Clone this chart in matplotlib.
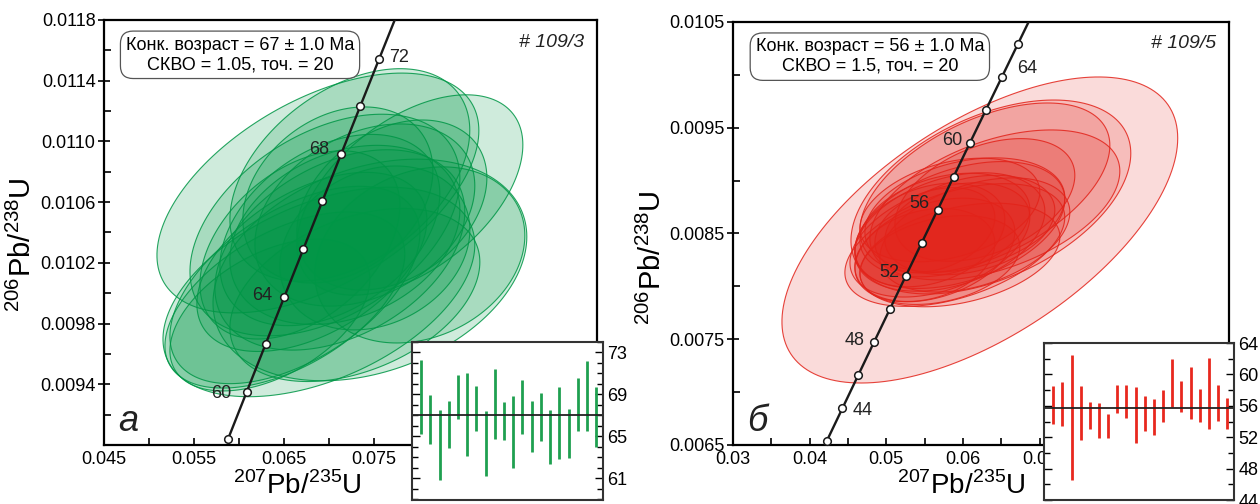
import numpy as np
import matplotlib
matplotlib.use("Agg")
import matplotlib.pyplot as plt
from matplotlib.patches import Polygon
from matplotlib.ticker import MultipleLocator, FormatStrFormatter

plt.rcParams["font.family"] = ["Liberation Sans", "DejaVu Sans"]
plt.rcParams["mathtext.fontset"] = "custom"
plt.rcParams["mathtext.rm"] = "Liberation Sans"

# ── Decay constants (1/yr) ───────────────────────────────────────
L238 = 1.55125e-10
L235 = 9.8485e-10

# ── Panel a (# 109/3) ────────────────────────────────────────────
A_X = [0.06878, 0.07900, 0.07456, 0.06889, 0.07233, 0.07011, 0.07178, 0.06678, 0.07122, 0.07400,
       0.06811, 0.06622, 0.07511, 0.07100, 0.06511, 0.08011, 0.06956, 0.07289, 0.06344, 0.07700]
A_Y = [0.010660, 0.010647, 0.010153, 0.010008, 0.010779, 0.010416, 0.010384, 0.010318, 0.010285, 0.010515,
       0.010206, 0.010054, 0.010298, 0.010647, 0.009955, 0.010252, 0.010449, 0.009988, 0.009856, 0.010581]
A_SX = [0.01789, 0.01256, 0.01744, 0.01733, 0.01333, 0.01222, 0.01278, 0.01111, 0.01389, 0.01222,
        0.01278, 0.01389, 0.01056, 0.01056, 0.01333, 0.01167, 0.01500, 0.01389, 0.01111, 0.01056]
A_SY = [0.000790, 0.000660, 0.000730, 0.000690, 0.000700, 0.000630, 0.000590, 0.000620, 0.000660, 0.000600,
        0.000590, 0.000650, 0.000540, 0.000580, 0.000580, 0.000580, 0.000730, 0.000570, 0.000500, 0.000560]
A_RHO = [0.52, 0.50, 0.30, 0.45, 0.42, 0.38, 0.28, 0.42, 0.38, 0.32,
         0.47, 0.52, 0.22, 0.28, 0.52, 0.22, 0.42, 0.38, 0.47, 0.32]
A_XTICKS = [0.045, 0.055, 0.065, 0.075, 0.085, 0.095]
A_YTICKS = [0.0094, 0.0098, 0.0102, 0.0106, 0.0110, 0.0114, 0.0118]
A_TICK_AGES = [58, 60, 62, 64, 66, 68, 70, 72, 74]
A_LABEL_AGES = [60, 64, 70, 74]
A_LABELS = ["60", "64", "68", "72"]
A_LABEL_OFF = [(-25, -2), (-22, 1), (-22, 4), (20, 1)]
A_AGE_LO = [65.2, 64.3, 60.8, 63.9, 66.6, 63.1, 65.5, 61.2, 64.7, 64.6,
            62.0, 65.2, 63.5, 64.5, 62.3, 62.8, 62.9, 65.5, 65.5, 64.0]
A_AGE_HI = [72.3, 68.9, 67.5, 68.4, 70.8, 71.0, 69.8, 67.4, 71.4, 68.3,
            68.8, 70.4, 68.4, 69.1, 67.5, 69.7, 67.6, 70.6, 72.2, 69.7]
A_MEAN = 67.0
A_INSET_TICKS = [61, 65, 69, 73]

# ── Panel б (# 109/5) ────────────────────────────────────────────
B_X = [0.06220, 0.06364, 0.06286, 0.06416, 0.05960, 0.05829, 0.05699, 0.06025, 0.05634, 0.05894,
       0.05764, 0.05568, 0.06155, 0.05503, 0.05960, 0.05829, 0.05699, 0.06090, 0.05634, 0.06286]
B_Y = [0.008533, 0.008845, 0.008930, 0.008770, 0.008580, 0.008514, 0.008439, 0.008675, 0.008344, 0.008391,
       0.008580, 0.008486, 0.008486, 0.008297, 0.008297, 0.008722, 0.008249, 0.008580, 0.008533, 0.008817]
B_SX = [0.02581, 0.01825, 0.01630, 0.01630, 0.01369, 0.01239, 0.01173, 0.01304, 0.01043, 0.01434,
        0.01108, 0.00978, 0.01239, 0.00913, 0.01304, 0.01173, 0.01043, 0.01108, 0.00782, 0.01173]
B_SY = [0.001447, 0.000917, 0.000804, 0.000709, 0.000600, 0.000560, 0.000540, 0.000540, 0.000490, 0.000580,
        0.000490, 0.000490, 0.000540, 0.000440, 0.000490, 0.000490, 0.000420, 0.000470, 0.000400, 0.000580]
B_RHO = [0.60, 0.45, 0.50, 0.45, 0.40, 0.35, 0.40, 0.30, 0.35, 0.45,
         0.30, 0.30, 0.40, 0.25, 0.35, 0.35, 0.30, 0.30, 0.30, 0.40]
B_XTICKS = [0.03, 0.04, 0.05, 0.06, 0.07, 0.08, 0.09]
B_YTICKS = [0.0065, 0.0075, 0.0085, 0.0095, 0.0105]
B_TICK_AGES = [42, 44, 46, 48, 50, 52, 54, 56, 58, 60, 62, 64, 66]
B_LABEL_AGES = [44, 48, 52, 56, 60, 64]
B_LABELS = ["44", "48", "52", "56", "60", "64"]
B_LABEL_OFF = [(20, -2), (-19, 2), (-16, 3), (-18, 6), (-17, 3), (25, 9)]
B_AGE_LO = [53.7, 53.4, 46.6, 51.6, 53.0, 51.9, 51.9, 55.1, 54.5, 51.2,
            52.8, 52.3, 54.0, 55.9, 55.2, 54.3, 53.9, 53.1, 54.1, 53.1]
B_AGE_HI = [58.5, 59.0, 62.5, 58.5, 56.5, 56.3, 54.9, 58.7, 58.6, 58.4,
            57.3, 56.9, 58.0, 62.0, 59.1, 60.9, 58.2, 62.1, 58.6, 57.0]
B_MEAN = 55.7
B_INSET_TICKS = [44, 48, 52, 56, 60, 64]


def concordia(ages_ma):
    t = np.asarray(ages_ma, dtype=float) * 1e6
    return np.expm1(L235 * t), np.expm1(L238 * t)


def error_ellipse(cx, cy, sx, sy, rho, n=180):
    t = np.linspace(0, 2 * np.pi, n)
    x = cx + sx * np.cos(t)
    y = cy + sy * (rho * np.cos(t) + np.sqrt(1 - rho ** 2) * np.sin(t))
    return np.column_stack([x, y])


def style_main(ax, xlim, ylim, xticks, yticks, xminor, yminor, xfmt, yfmt):
    ax.set_xticks(xticks)
    ax.set_yticks(yticks)
    ax.xaxis.set_minor_locator(MultipleLocator(xminor))
    ax.yaxis.set_minor_locator(MultipleLocator(yminor))
    ax.xaxis.set_major_formatter(FormatStrFormatter(xfmt))
    ax.yaxis.set_major_formatter(FormatStrFormatter(yfmt))
    ax.set_xlim(*xlim)
    ax.set_ylim(*ylim)
    ax.tick_params(axis="x", which="both", direction="in", length=5, width=1.2,
                   labelsize=13, pad=4)
    ax.tick_params(axis="y", which="major", direction="inout", length=8, width=1.2,
                   labelsize=13, pad=2)
    ax.tick_params(axis="y", which="minor", direction="in", length=5, width=1.2)
    for s in ax.spines.values():
        s.set_linewidth(1.6)


def draw_panel(fig, rect, inset_rect, ex, ey, esx, esy, erho, color, alpha,
               xlim, ylim, xticks, yticks, xminor, yminor, xfmt, age_range, tick_ages,
               label_ages, labels, label_off, box_text, tag, letter,
               lo, hi, mean, inset_ylim, inset_ticks, inset_minor, bar_color):
    ax = fig.add_axes(rect)
    style_main(ax, xlim, ylim, xticks, yticks, xminor, yminor, xfmt, "%.4f")

    # error ellipses, largest first
    order = np.argsort([-a * b for a, b in zip(esx, esy)])
    for i in order:
        pts = error_ellipse(ex[i], ey[i], esx[i], esy[i], erho[i])
        ax.add_patch(Polygon(pts, closed=True, fc=color, alpha=alpha, ec="none", zorder=2))
        ax.add_patch(Polygon(pts, closed=True, fill=False, ec=color, lw=0.8,
                             alpha=0.85, zorder=3))

    # concordia curve with age marks
    cx, cy = concordia(np.linspace(age_range[0], age_range[1], 200))
    ax.plot(cx, cy, color="#1a1a1a", lw=1.7, zorder=5)
    mx, my = concordia(tick_ages)
    ax.plot(mx, my, "o", ms=5.5, mfc="white", mec="#1a1a1a", mew=1.1, zorder=6,
            clip_on=False)
    lx, ly = concordia(label_ages)
    for x, y, s, off in zip(lx, ly, labels, label_off):
        ax.annotate(s, (x, y), xytext=off, textcoords="offset pixels",
                    ha="center", va="center", fontsize=13, color="#222", zorder=7)

    ax.text(0.276, 0.918, box_text, transform=ax.transAxes, ha="center", va="center",
            fontsize=13, linespacing=1.2, zorder=8,
            bbox=dict(boxstyle="round,pad=0.3,rounding_size=0.7", fc="white",
                      ec="#555555", lw=0.9))
    ax.text(0.974, 0.948, tag, transform=ax.transAxes, ha="right", va="center",
            fontsize=14, style="italic", color="#222")
    ax.text(0.05, 0.056, letter, transform=ax.transAxes, ha="center", va="center",
            fontsize=26, style="italic", color="#222")

    # inset with individual ages
    ins = fig.add_axes(inset_rect, zorder=10)
    ins.set_facecolor("white")
    n = np.arange(1, len(lo) + 1)
    ins.vlines(n, lo, hi, colors=bar_color, lw=2.0)
    ins.axhline(mean, color="#222", lw=1.3)
    ins.set_xlim(0, len(lo) + 0.75)
    ins.set_xticks([])
    ins.set_yticks(inset_ticks)
    ins.yaxis.set_minor_locator(MultipleLocator(inset_minor))
    ins.set_ylim(*inset_ylim)
    ins.tick_params(axis="y", which="both", direction="in", left=True, right=True,
                    labelleft=False, labelright=True, labelsize=13, width=1.0, pad=3)
    ins.tick_params(axis="y", which="major", length=6)
    ins.tick_params(axis="y", which="minor", length=4)
    for s in ins.spines.values():
        s.set_linewidth(1.5)
        s.set_color("#333")
    return ax


fig = plt.figure(figsize=(12.6, 5.04), dpi=100)

ylab = r"$^{206}\mathrm{Pb}/^{238}\mathrm{U}$"
xlab = r"$^{207}\mathrm{Pb}/^{235}\mathrm{U}$"

draw_panel(fig, [0.0825, 0.1171, 0.3913, 0.8433], [0.327, 0.0079, 0.1516, 0.3135],
           A_X, A_Y, A_SX, A_SY, A_RHO, "#009646", 0.19,
           (0.045, 0.0998), (0.0090, 0.0118), A_XTICKS, A_YTICKS, 0.005, 0.0002, "%.3f",
           (57.9, 77.0), A_TICK_AGES, A_LABEL_AGES, A_LABELS, A_LABEL_OFF,
           "Конк. возраст = 67 ± 1.0 Ma\nСКВО = 1.05, точ. = 20", "# 109/3", "а",
           A_AGE_LO, A_AGE_HI, A_MEAN, (58.9, 74.0), A_INSET_TICKS, 1, "#1fa050")

draw_panel(fig, [0.5817, 0.1171, 0.3937, 0.8393], [0.8286, 0.0079, 0.1508, 0.3115],
           B_X, B_Y, B_SX, B_SY, B_RHO, "#e2231a", 0.16,
           (0.03, 0.0947), (0.0065, 0.0105), B_XTICKS, B_YTICKS, 0.005, 0.0005, "%.2g",
           (41.8, 68.0), B_TICK_AGES, B_LABEL_AGES, B_LABELS, B_LABEL_OFF,
           "Конк. возраст = 56 ± 1.0 Ma\nСКВО = 1.5, точ. = 20", "# 109/5", "б",
           B_AGE_LO, B_AGE_HI, B_MEAN, (44, 64), B_INSET_TICKS, 2, "#e8281e")

fig.text(22 / 1260, 1 - 245 / 504, ylab, rotation=90, ha="center", va="center", fontsize=21)
fig.text(652 / 1260, 1 - 258 / 504, ylab, rotation=90, ha="center", va="center", fontsize=21)
fig.text(297 / 1260, 1 - 486 / 504, xlab, ha="center", va="center", fontsize=20)
fig.text(961 / 1260, 1 - 486 / 504, xlab, ha="center", va="center", fontsize=20)

fig.savefig("out.png", dpi=100)
